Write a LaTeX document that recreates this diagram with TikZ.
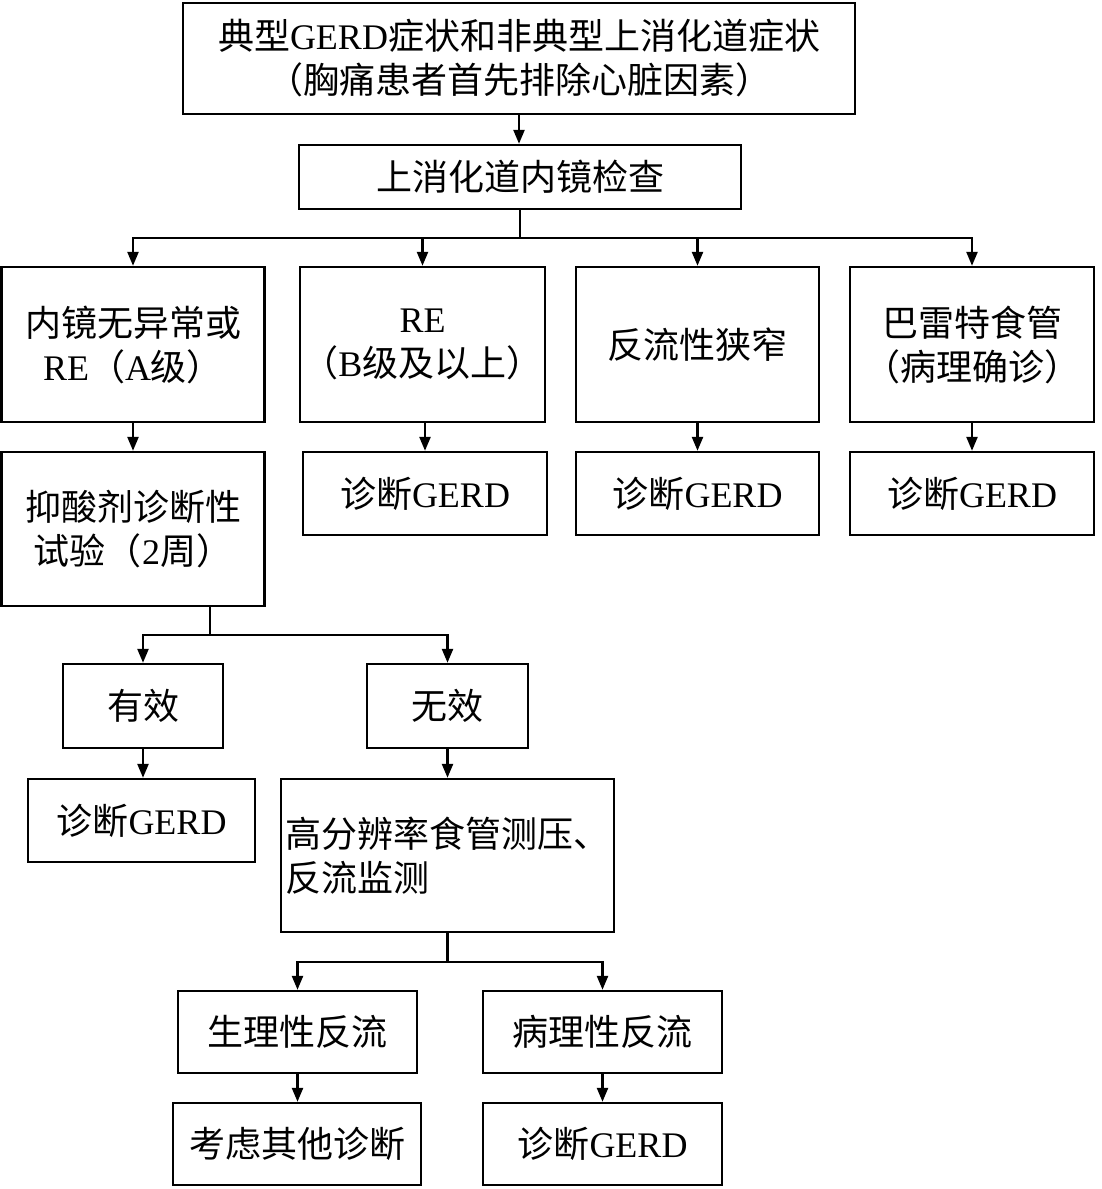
\documentclass[tikz,border=0pt]{standalone}
\usepackage{fontspec}
\setmainfont{Liberation Serif}
\newfontfamily\cjk{Noto Sans CJK SC}
\newcommand{\zh}[1]{{\cjk #1}}
\usetikzlibrary{arrows.meta}

\begin{document}
\begin{tikzpicture}[x=1pt,y=-1pt,
  box/.style={draw,line width=2.4pt,inner sep=0pt,align=center,font=\fontsize{36}{44}\selectfont},
  line/.style={line width=2.4pt},
  arr/.style={-{Triangle[length=14pt,width=11pt]},line width=2.4pt}]
\useasboundingbox (0,0) rectangle (1101,1189);
\node[box,minimum width=672pt,minimum height=111pt] (top) at (519,58.5) {\zh{典型}GERD\zh{症状和非典型上消化道症状}\\\zh{（胸痛患者首先排除心脏因素）}};
\node[box,minimum width=442pt,minimum height=64pt] (endo) at (520,177) {\zh{上消化道内镜检查}};
\node[box,minimum width=263pt,minimum height=155pt] (normal) at (133,344.5) {\zh{内镜无异常或}\\RE\zh{（}A\zh{级）}};
\node[box,minimum width=245pt,minimum height=155pt] (re) at (422.5,344.5) {RE\\\zh{（}B\zh{级及以上）}};
\node[box,minimum width=243pt,minimum height=155pt] (stric) at (697.5,344.5) {\zh{反流性狭窄}};
\node[box,minimum width=244pt,minimum height=155pt] (barrett) at (972,344.5) {\zh{巴雷特食管}\\\zh{（病理确诊）}};
\node[box,minimum width=263pt,minimum height=154pt] (trial) at (133,529) {\zh{抑酸剂诊断性}\\\zh{试验（}2\zh{周）}};
\node[box,minimum width=244pt,minimum height=83pt] (dx2) at (425,493.5) {\zh{诊断}GERD};
\node[box,minimum width=243pt,minimum height=83pt] (dx3) at (697.5,493.5) {\zh{诊断}GERD};
\node[box,minimum width=244pt,minimum height=83pt] (dx4) at (972,493.5) {\zh{诊断}GERD};
\node[box,minimum width=160pt,minimum height=84pt] (eff) at (143,706) {\zh{有效}};
\node[box,minimum width=161pt,minimum height=84pt] (ineff) at (447.5,706) {\zh{无效}};
\node[box,minimum width=227pt,minimum height=83pt] (dx1) at (141.5,820.5) {\zh{诊断}GERD};
\node[box,align=left,minimum width=333pt,minimum height=153pt] (hrm) at (447.5,855.5) {\zh{高分辨率食管测压、}\\\zh{反流监测}};
\node[box,minimum width=239pt,minimum height=82pt] (phys) at (297.5,1032) {\zh{生理性反流}};
\node[box,minimum width=239pt,minimum height=82pt] (path) at (602.5,1032) {\zh{病理性反流}};
\node[box,minimum width=248pt,minimum height=82pt] (other) at (297,1144) {\zh{考虑其他诊断}};
\node[box,minimum width=239pt,minimum height=82pt] (dx5) at (602.5,1144) {\zh{诊断}GERD};
% endoscopy and its four outcomes
\draw[arr] (top.south) -- (top.south |- endo.north);
\draw[line] (endo.south) -- ++(0,28) coordinate (j1);
\foreach \n in {normal,re,stric,barrett} \draw[arr] (j1) -| (\n.north);
\draw[arr] (normal.south) -- (trial.north);
\draw[arr] (re.south -| dx2) -- (dx2.north);
\draw[arr] (stric.south -| dx3) -- (dx3.north);
\draw[arr] (barrett.south -| dx4) -- (dx4.north);
% PPI trial
\draw[line] ([xshift=-56pt]trial.south east) -- ++(0,28) coordinate (j2);
\foreach \n in {eff,ineff} \draw[arr] (j2) -| (\n.north);
\draw[arr] (eff.south) -- (eff.south |- dx1.north);
\draw[arr] (ineff.south) -- (ineff.south |- hrm.north);
% monitoring
\draw[line] (hrm.south) -- ++(0,29) coordinate (j3);
\foreach \n in {phys,path} \draw[arr] (j3) -| (\n.north);
\draw[arr] (phys.south) -- (phys.south |- other.north);
\draw[arr] (path.south) -- (path.south |- dx5.north);
\end{tikzpicture}
\end{document}
